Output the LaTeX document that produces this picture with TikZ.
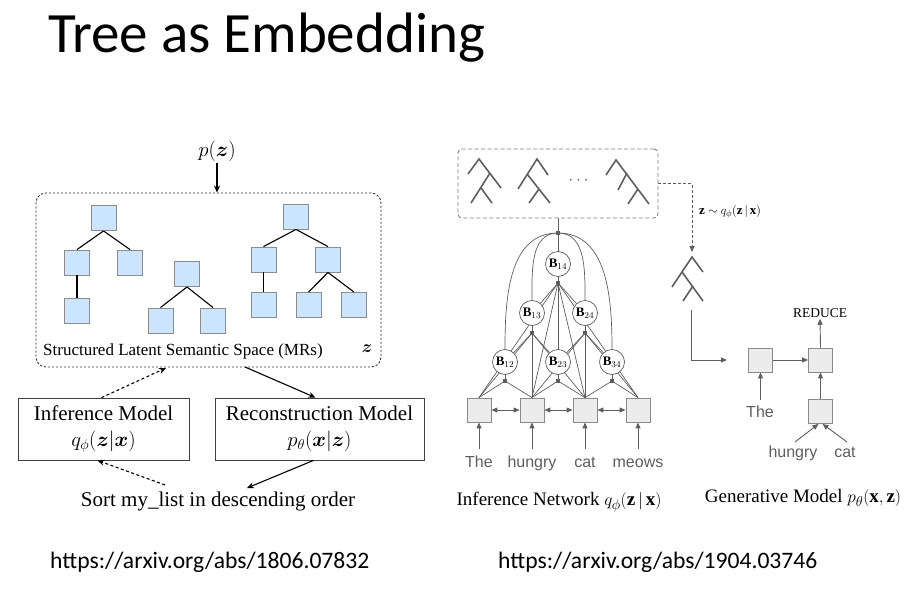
\documentclass[tikz,border=0pt]{standalone}
\usepackage{amsmath}
\usepackage{bm}
\usepackage{fontspec}
\setmainfont{Liberation Serif}
\newfontfamily\calfont{Carlito}
\newfontfamily\arialfont{Liberation Sans}
\usetikzlibrary{arrows.meta,calc}
\pgfdeclarelayer{bg}
\pgfsetlayers{bg,main}
\definecolor{lgray}{HTML}{5E5E5E}
\definecolor{boxblue}{HTML}{CCE5FF}
\definecolor{boxedge}{HTML}{8C8C8C}
\definecolor{sqfill}{HTML}{ECECEC}
\definecolor{sqedge}{HTML}{8A8A8A}
\newcommand{\fs}[1]{\fontsize{#1}{#1}\selectfont}
\begin{document}
\begin{tikzpicture}[x=1pt,y=-1pt,
  tbox/.style={draw=boxedge, fill=boxblue, minimum size=25pt, inner sep=0pt, line width=0.9pt},
  tedge/.style={line width=1.1pt, black},
  modelbox/.style={draw=black!75, line width=0.8pt, inner sep=0pt, align=center, font=\fs{21}},
  blk/.style={-{Stealth[length=7pt,width=6pt]}, line width=1.1pt, black},
  blkdash/.style={blk, dash pattern=on 3pt off 2.5pt},
  isq/.style={draw=sqedge, fill=sqfill, minimum size=24pt, inner sep=0pt, line width=0.8pt},
  bnode/.style={circle, draw=lgray, fill=white, minimum size=25pt, inner sep=0pt, line width=0.7pt, font=\fs{13}},
  junc/.style={fill=lgray, minimum size=3.5pt, inner sep=0pt},
  gline/.style={lgray, line width=0.7pt},
  garrow/.style={lgray, line width=0.9pt, -{Triangle[length=6pt,width=5pt]}},
  gdarrow/.style={lgray, line width=0.9pt, {Triangle[length=6pt,width=5pt]}-{Triangle[length=6pt,width=5pt]}},
  chev/.style={lgray, line width=1.6pt},
  word/.style={text=lgray, font=\arialfont\fs{16}, inner sep=0pt, anchor=base},
  capt/.style={font=\fs{19}, inner sep=0pt}
]
\useasboundingbox (0,0) rectangle (910,597);

% title
\node[anchor=west, font=\calfont\fs{57}, inner sep=0pt] (title) at (48,38) {Tree as Embedding};
% URLs
\node[anchor=west, font=\calfont\fs{23.6}, inner sep=0pt] (url1) at (50,562) {https://arxiv.org/abs/1806.07832};
\node[anchor=west, font=\calfont\fs{23.6}, inner sep=0pt] (url2) at (498,562) {https://arxiv.org/abs/1904.03746};

% ================= LEFT DIAGRAM =================
\node[font=\fs{21}, inner sep=1pt] (pz) at (217,151) {$p(\bm{z})$};
\node[draw=black!80, rounded corners=10pt, line width=0.9pt, dash pattern=on 2.2pt off 1.8pt,
      minimum width=345pt, minimum height=174pt] (zs) at (208.5,280) {};
\draw[blk] (pz.south) -- (pz.south |- zs.north);

\node[tbox] (a1) at (103.5,218) {};
\node[tbox] (a2) at (77,262.5) {};
\node[tbox] (a3) at (130,262.5) {};
\node[tbox] (a4) at (77,311) {};
\node[tbox] (b1) at (187,274) {};
\node[tbox] (b2) at (160.5,320.5) {};
\node[tbox] (b3) at (213,320.5) {};
\node[tbox] (c1) at (296,216.5) {};
\node[tbox] (c2) at (263.5,259.5) {};
\node[tbox] (c3) at (328,259.5) {};
\node[tbox] (c4) at (263.5,305) {};
\node[tbox] (c5) at (308.5,305) {};
\node[tbox] (c6) at (354,305) {};
\foreach \p/\c in {a1/a2,a1/a3,a2/a4,b1/b2,b1/b3,c1/c2,c1/c3,c2/c4,c3/c5,c3/c6}
  \draw[tedge] (\p.south) -- (\c.north);

\node[anchor=west, font=\fs{17}, inner sep=0pt] (zl) at (43,351) {Structured Latent Semantic Space (MRs)};
\node[font=\fs{19}, inner sep=0pt] (zz) at (367,349) {$\bm{z}$};

\node[modelbox, minimum width=171pt, minimum height=62pt] (inf) at (103.5,429)
  {Inference Model\\[5pt] $q_\phi(\bm{z}|\bm{x})$};
\node[modelbox, minimum width=209pt, minimum height=62pt] (rec) at (319.5,429)
  {Reconstruction Model\\[5pt] $p_\theta(\bm{x}|\bm{z})$};
\node[font=\fs{21}, inner sep=0pt] (sort) at (218,501) {Sort my\_list in descending order};

\coordinate (za) at (166,368);
\coordinate (zb) at (245,367);
\coordinate (sa) at (247,488);
\coordinate (sb) at (165,485);
\draw[blkdash] ([xshift=-2pt]inf.north) -- (za);
\draw[blk] (zb) -- ([xshift=-4pt]rec.north);
\draw[blk] ([xshift=-6pt]rec.south) -- (sa);
\draw[blkdash] (sb) -- ([xshift=-6pt]inf.south);

% ================= RIGHT DIAGRAM: inference network =================
\node[draw=lgray!80, rounded corners=4pt, line width=0.9pt, dash pattern=on 4pt off 2.5pt,
      minimum width=200pt, minimum height=69pt] (top) at (558,183.5) {};
% chevron trees
\draw[chev] (468,174) -- (479,159) -- (501,188);
\draw[chev] (490,173) -- (471,203);
\draw[chev] (481,188) -- (492,203);
\draw[chev] (548,175) -- (537,159) -- (518,189);
\draw[chev] (527,174) -- (550,203);
\draw[chev] (539,189) -- (529,203);
\draw[chev] (606,175) -- (616,160) -- (649,204);
\draw[chev] (627,173) -- (618,190);
\draw[chev] (638,189) -- (628,204);
\node[text=lgray, font=\fs{16}, inner sep=0pt] (dots) at (580,181) {$\cdots$};

\node[isq] (s1) at (479,410) {};
\node[isq] (s2) at (532,410) {};
\node[isq] (s3) at (585,410) {};
\node[isq] (s4) at (638,410) {};

\node[bnode] (B12) at (505,362) {$\mathbf{B}_{12}$};
\node[bnode] (B23) at (558,362) {$\mathbf{B}_{23}$};
\node[bnode] (B34) at (612,362) {$\mathbf{B}_{34}$};
\node[bnode] (B13) at (532,313) {$\mathbf{B}_{13}$};
\node[bnode] (B24) at (585,313) {$\mathbf{B}_{24}$};
\node[bnode] (B14) at (558,264) {$\mathbf{B}_{14}$};

\node[junc] (J12) at (505,381) {};
\node[junc] (J23) at (558,381) {};
\node[junc] (J34) at (612,381) {};
\node[junc] (J13) at (532,333) {};
\node[junc] (J24) at (585,333) {};
\node[junc] (J14) at (558,283) {};
\node[junc] (JT) at (558,233) {};

\begin{pgfonlayer}{bg}
  \foreach \j/\s in {J12/s1,J12/s2,J23/s2,J23/s3,J34/s3,J34/s4,
                     J13/s1,J13/s2,J13/s3,J24/s2,J24/s3,J24/s4,
                     J14/s1,J14/s2,J14/s3,J14/s4}
    \draw[gline] (\j.center) -- (\s.north);
  \foreach \j/\b in {J13/B12,J13/B23,J24/B23,J24/B34,J14/B13,J14/B24,J14/B23,
                     B12/J12,B23/J23,B34/J34,B13/J13,B24/J24,B14/J14,JT/B14}
    \draw[gline] (\j.center) -- (\b.center);
  \draw[gline] (top.south) -- (JT.center);
  \draw[gline] (JT.center) to[out=180,in=90] (B13.north);
  \draw[gline] (JT.center) to[out=0,in=90] (B24.north);
  \draw[gline] (JT.center) to[out=180,in=90] (B12.north);
  \draw[gline] (JT.center) to[out=0,in=90] (B34.north);
\end{pgfonlayer}

\foreach \a/\b in {s1/s2,s2/s3,s3/s4}
  \draw[gdarrow] (\a.east) -- (\b.west);

\node[word] (w1) at (479,467) {The};
\node[word] (w2) at (532,467) {hungry};
\node[word] (w3) at (585,467) {cat};
\node[word] (w4) at (638,467) {meows};
\foreach \w/\s in {w1/s1,w2/s2,w3/s3,w4/s4}
  \draw[garrow] (\s.south |- 0,449) -- (\s.south);

\node[capt] (infcap) at (559,502) {Inference Network $q_\phi(\mathbf{z}\,|\,\mathbf{x})$};

% ================= RIGHT DIAGRAM: generative model =================
\draw[chev] (703,272) -- (692,257) -- (672,287);
\draw[chev] (682,272) -- (703,301);
\draw[chev] (693,286) -- (683,301);
\coordinate (st) at (692,252);
\draw[lgray, line width=0.9pt, dash pattern=on 3pt off 2pt, -{Triangle[length=6pt,width=5pt]}]
  (top.east) -| (st);
\node[anchor=west, font=\fs{13}, inner sep=0pt] (zlab) at (699,212) {$\mathbf{z}\sim q_\phi(\mathbf{z}\,|\,\mathbf{x})$};

\node[isq] (g1) at (760.5,360) {};
\node[isq] (g2) at (820.5,360) {};
\node[isq] (g3) at (820.5,411.5) {};
\coordinate (gs) at (691,310);
\coordinate (ge) at (727,360);
\draw[garrow] (gs) |- (ge);
\draw[garrow] (g1.east) -- (g2.west);
\draw[garrow] (g3.north) -- (g2.south);
\node[font=\fs{13.5}, inner sep=1pt] (red) at (820,313) {REDUCE};
\draw[garrow] (g2.north) -- (red.south);
\node[word] (gw1) at (760,417) {The};
\node[word] (gw2) at (793,457) {hungry};
\node[word] (gw3) at (845,457) {cat};
\coordinate (gwa) at (795,442);
\coordinate (gwb) at (847,442);
\draw[garrow] (g1.south |- 0,400) -- (g1.south);
\draw[garrow] (gwa) -- ([xshift=-2pt]g3.south);
\draw[garrow] (gwb) -- ([xshift=2pt]g3.south);

\node[capt] (gencap) at (803,498) {Generative Model $p_\theta(\mathbf{x},\mathbf{z})$};
\end{tikzpicture}
\end{document}
